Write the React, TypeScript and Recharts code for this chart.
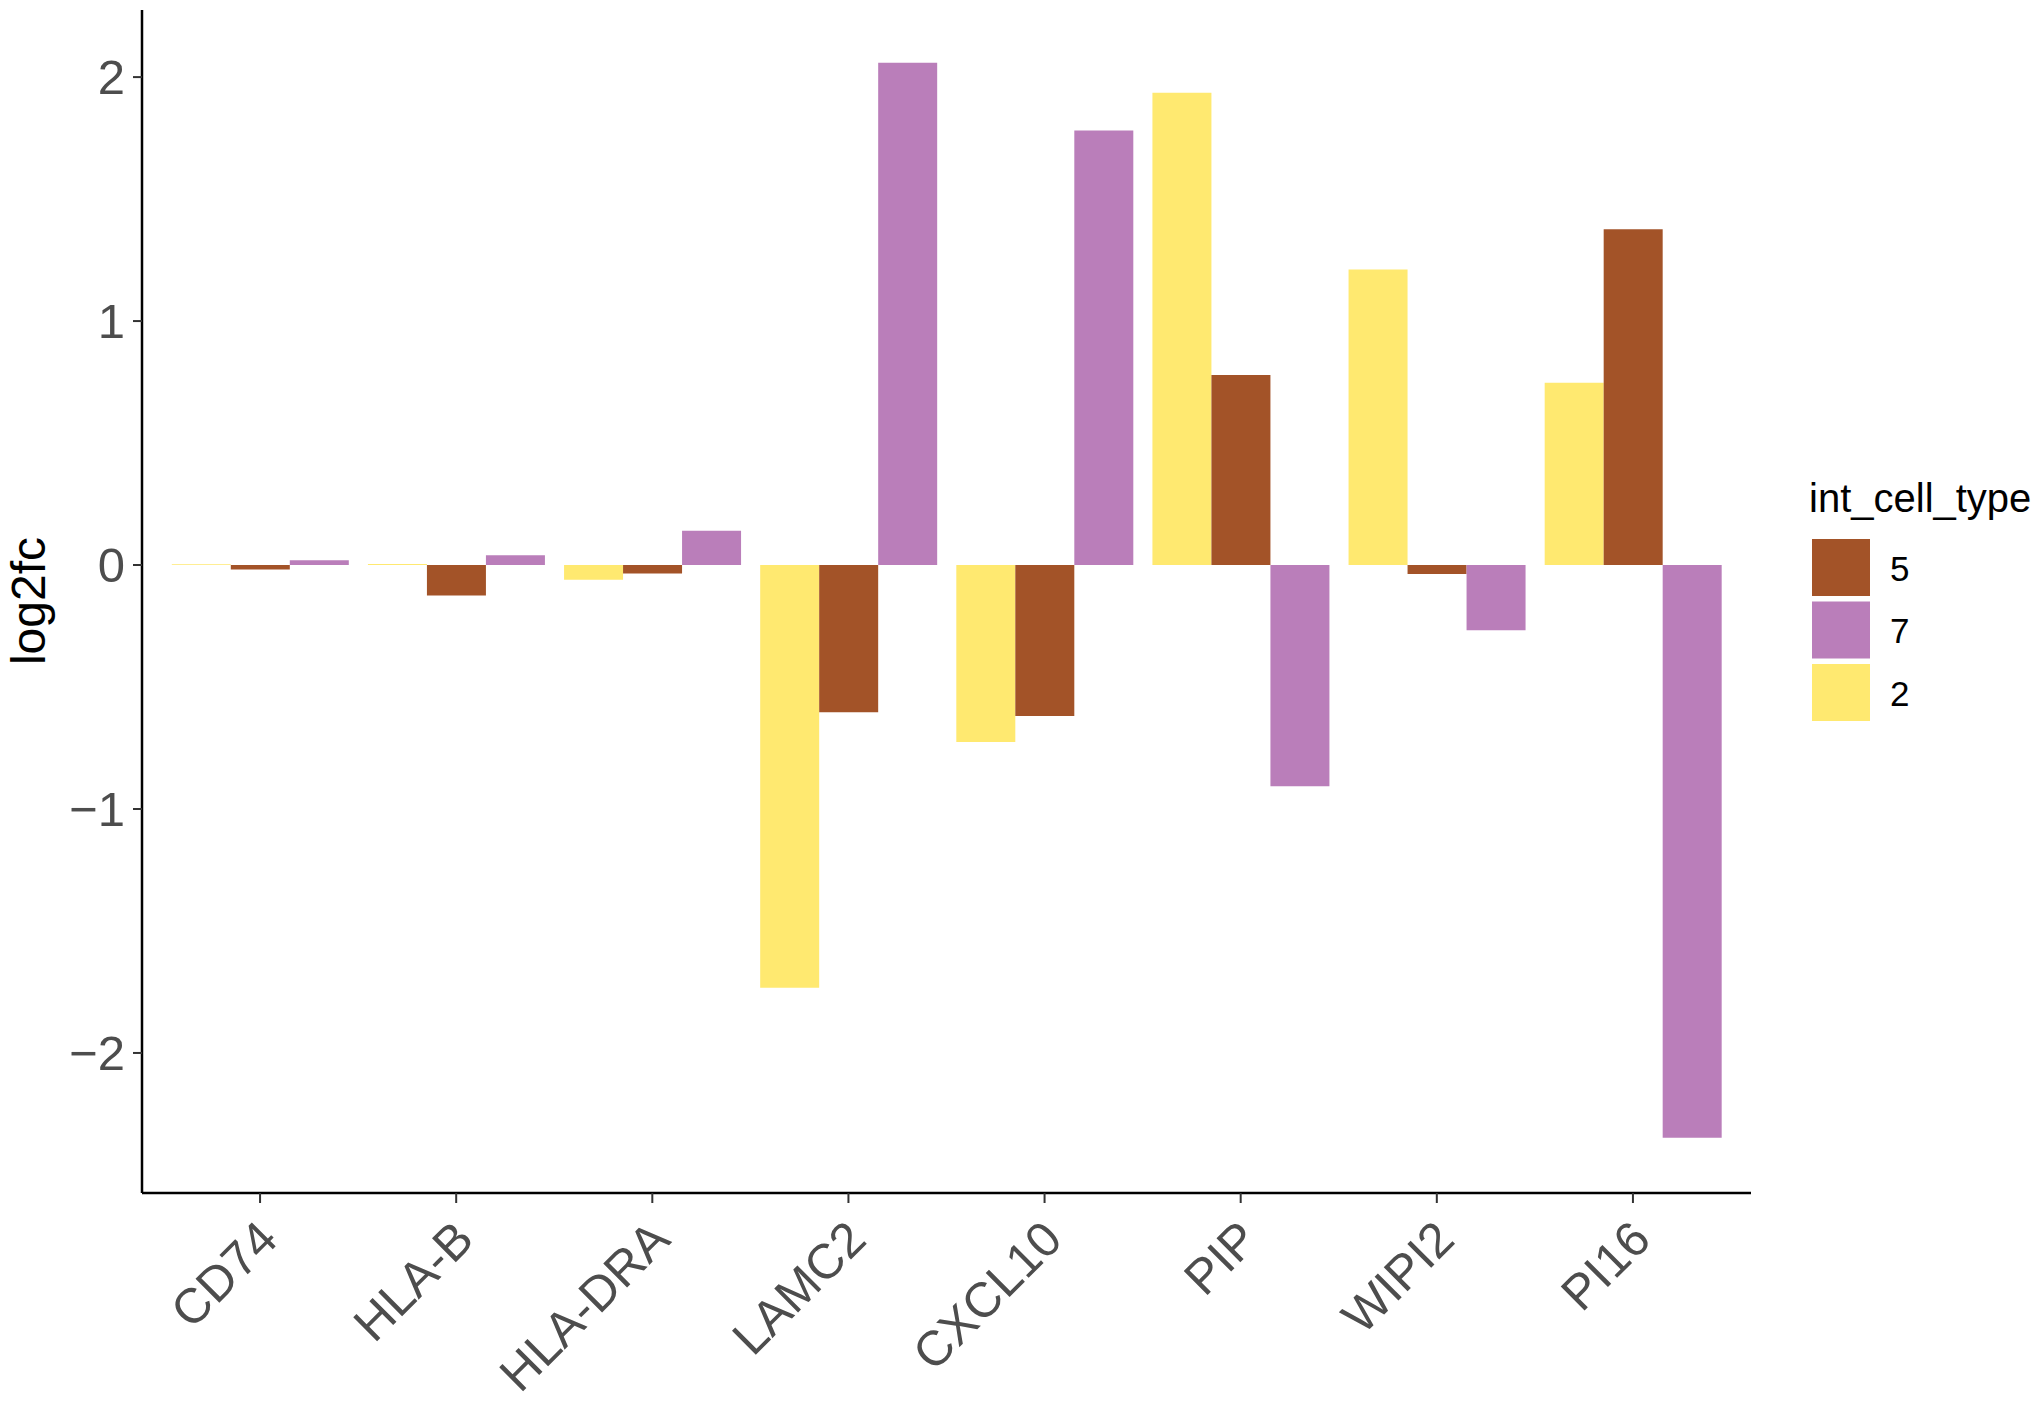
import React from "react";
import {
  BarChart,
  Bar,
  XAxis,
  YAxis,
  Legend,
  Label,
} from "recharts";

const genes = ["CD74", "HLA-B", "HLA-DRA", "LAMC2", "CXCL10", "PIP", "WIPI2", "PI16"];
const type2 = [0.003, 0.004, -0.06, -1.733, -0.725, 1.936, 1.211, 0.747];
const type5 = [-0.018, -0.125, -0.035, -0.603, -0.619, 0.779, -0.037, 1.376];
const type7 = [0.02, 0.04, 0.14, 2.059, 1.781, -0.907, -0.267, -2.348];
const yTicks = [-2, -1, 0, 1, 2];

const COLORS = { t5: "#A35328", t7: "#BA7EBA", t2: "#FFE970" };
const FONT = '"Liberation Sans", Arial, Helvetica, sans-serif';

const data = genes.map((g, i) => ({
  gene: g,
  t2: type2[i],
  t5: type5[i],
  t7: type7[i],
}));

const legendItems = [
  { label: "5", color: COLORS.t5 },
  { label: "7", color: COLORS.t7 },
  { label: "2", color: COLORS.t2 },
];

// rotated category labels, right end of the text hangs just below the tick
const XTick = (props: any) => {
  const { x, y, payload } = props;
  return (
    <g transform={`translate(${x + 20},${y + 39})`}>
      <text
        textAnchor="end"
        transform="rotate(-45)"
        fontSize={49}
        fill="#4D4D4D"
        fontFamily={FONT}
      >
        {payload.value}
      </text>
    </g>
  );
};

const LegendBox = () => (
  <svg width={240} height={260} style={{ display: "block" }}>
    <text x={9} y={42} fontSize={40} fontFamily={FONT} fill="#000">
      int_cell_type
    </text>
    {legendItems.map((item, i) => (
      <g key={item.label}>
        <rect x={12} y={69 + i * 62.5} width={58} height={57} fill={item.color} />
        <text
          x={90}
          y={110.5 + i * 62.5}
          fontSize={35}
          fontFamily={FONT}
          fill="#000"
        >
          {item.label}
        </text>
      </g>
    ))}
  </svg>
);

const fmt = (v: number) => (v < 0 ? `\u2212${Math.abs(v)}` : String(v));

export default function App() {
  return (
    <div style={{ width: 2040, height: 1410, margin: -8 }}>
      <BarChart
        width={2040}
        height={1410}
        data={data}
        margin={{ top: 10, right: 289, bottom: 0, left: 0 }}
        barCategoryGap="5%"
        barGap={0}
      >
        <XAxis
          dataKey="gene"
          height={217}
          padding={{ left: 20, right: 20 }}
          axisLine={{ stroke: "#000", strokeWidth: 2.5 }}
          tickLine={{ stroke: "#333", strokeWidth: 2 }}
          tickSize={10}
          tickMargin={0}
          interval={0}
          tick={<XTick />}
        />
        <YAxis
          type="number"
          width={142}
          domain={[-2.574, 2.275]}
          allowDataOverflow
          ticks={yTicks}
          tickFormatter={fmt}
          axisLine={{ stroke: "#000", strokeWidth: 2.5 }}
          tickLine={{ stroke: "#333", strokeWidth: 2 }}
          tickSize={9}
          tickMargin={8}
          tick={{ fontSize: 49, fill: "#4D4D4D", fontFamily: FONT }}
        >
          <Label
            content={() => (
              <text
                x={45}
                y={601}
                transform="rotate(-90, 45, 601)"
                textAnchor="middle"
                fontSize={48}
                fontFamily={FONT}
                fill="#000"
              >
                log2fc
              </text>
            )}
          />
        </YAxis>
        <Legend
          layout="horizontal"
          align="center"
          verticalAlign="middle"
          content={<LegendBox />}
          wrapperStyle={{ left: 1800, top: 470, width: 240, height: 260 }}
        />
        <Bar dataKey="t2" name="2" fill={COLORS.t2} isAnimationActive={false} />
        <Bar dataKey="t5" name="5" fill={COLORS.t5} isAnimationActive={false} />
        <Bar dataKey="t7" name="7" fill={COLORS.t7} isAnimationActive={false} />
      </BarChart>
    </div>
  );
}
